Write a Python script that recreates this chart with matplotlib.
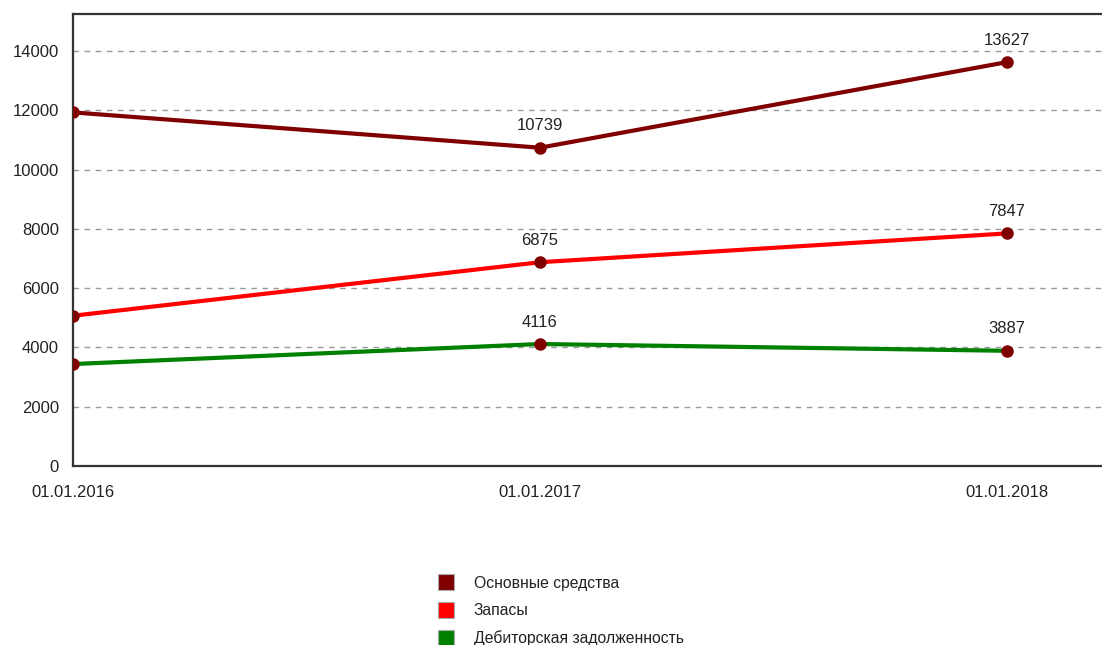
import matplotlib
matplotlib.use("Agg")
import matplotlib.pyplot as plt
from matplotlib.lines import Line2D

dates = ["01.01.2016", "01.01.2017", "01.01.2018"]
series_names = ["Основные средства", "Запасы", "Дебиторская задолженность"]
os_sredstva = [11930, 10739, 13627]
zapasy = [5070, 6875, 7847]
debitor = [3440, 4116, 3887]
show_label = [False, True, True]
colors = ["#800000", "#ff0000", "#008000"]
y_ticks = [0, 2000, 4000, 6000, 8000, 10000, 12000, 14000]

plt.rcParams['font.family'] = ['Liberation Sans', 'DejaVu Sans']

fig = plt.figure(figsize=(11.02, 6.45), dpi=100)
ax = fig.add_axes([73/1102, 1-466/645, 1-73/1102, (466-14)/645])

x = list(range(len(dates)))
for vals, c in zip([os_sredstva, zapasy, debitor], colors):
    ax.plot(x, vals, color=c, lw=3, zorder=3, solid_capstyle='butt')
    ax.plot(x, vals, ls='none', marker='o', ms=8, color='#800000', zorder=4)
    for xi, v, s in zip(x, vals, show_label):
        if s:
            ax.annotate(str(v), (xi, v), xytext=(0, 22), textcoords='offset pixels',
                        ha='center', va='center', fontsize=12, color='#222222',
                        bbox=dict(boxstyle='square,pad=0.1', fc='white', ec='none'), zorder=5)

ax.set_xlim(0, (1102-73)/467)
ax.set_ylim(0, 15250)
ax.set_yticks(y_ticks)
ax.set_yticklabels([str(t) for t in y_ticks], fontsize=12, color='#222222')
ax.set_xticks(x)
ax.set_xticklabels(dates, fontsize=12, color='#222222')
ax.tick_params(axis='both', length=0)
ax.tick_params(axis='y', pad=10)
ax.tick_params(axis='x', pad=14)
ax.yaxis.grid(True, ls=(0, (4, 4)), color='#999999', lw=1)
ax.set_axisbelow(True)
ax.spines['right'].set_visible(False)
for s in ['left', 'bottom', 'top']:
    ax.spines[s].set_color('#333333')
    ax.spines[s].set_linewidth(1.6)

handles = [Line2D([], [], ls='none', marker='s', ms=11, mfc=c, mec='#aaaaaa', mew=0.8) for c in colors]
fig.legend(handles, series_names, loc='center left', bbox_to_anchor=(430/1102, 1-611/645),
           frameon=False, fontsize=11.3, handletextpad=1.3, labelspacing=0.78, borderpad=0,
           handlelength=1.0, labelcolor='#222222')

fig.savefig("out.png", dpi=100)
